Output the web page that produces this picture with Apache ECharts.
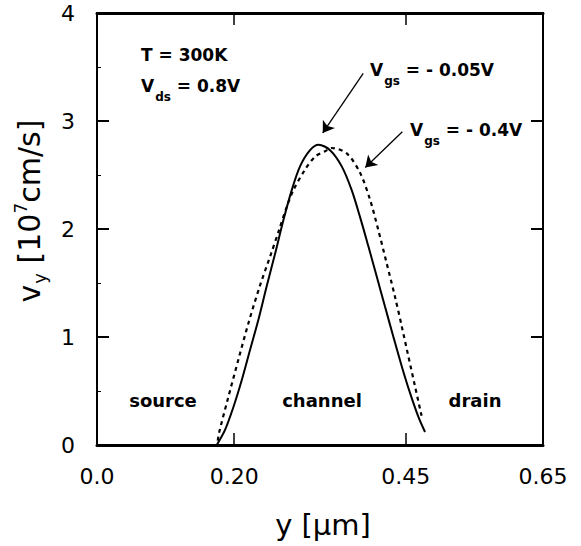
<!DOCTYPE html>
<html><head><meta charset="utf-8">
<script src="https://cdn.jsdelivr.net/npm/echarts@6/dist/echarts.min.js"></script>
<style>html,body{margin:0;padding:0;background:#fff}#c{width:581px;height:546px}</style>
</head><body><div id="c"></div>
<script>
// ---- data ----
const xTicks = [0, 0.20, 0.45, 0.65];
const xTickLabels = ['0.0', '0.20', '0.45', '0.65'];
const yTickLabels = ['0', '1', '2', '3', '4'];

// Vgs = -0.05 V (solid)
const solidX = [0.1745, 0.1866, 0.1987, 0.2109, 0.2230, 0.2352, 0.2473, 0.2595, 0.2716, 0.2838, 0.2959, 0.3105, 0.3230, 0.3397, 0.3567, 0.3712, 0.3834, 0.3955, 0.4077, 0.4198, 0.4320, 0.4441, 0.4563, 0.4684, 0.4781];
const solidV = [0.00, 0.14, 0.35, 0.60, 0.88, 1.16, 1.47, 1.77, 2.08, 2.36, 2.58, 2.73, 2.78, 2.73, 2.58, 2.36, 2.11, 1.84, 1.56, 1.28, 1.00, 0.73, 0.48, 0.26, 0.12];

// Vgs = -0.4 V (dashed)
const dashX = [0.1760, 0.1778, 0.1904, 0.2060, 0.2208, 0.2372, 0.2536, 0.2653, 0.2768, 0.2862, 0.3032, 0.3178, 0.3324, 0.3420, 0.3640, 0.3834, 0.3980, 0.4100, 0.4223, 0.4344, 0.4441, 0.4538, 0.4636, 0.4730];
const dashV = [0.04, 0.11, 0.42, 0.79, 1.13, 1.47, 1.77, 1.99, 2.21, 2.36, 2.55, 2.67, 2.72, 2.75, 2.70, 2.52, 2.27, 1.99, 1.68, 1.37, 1.10, 0.82, 0.54, 0.27];

// annotation arrows (tail -> head) in data units
const arrow1 = [[0.388, 3.44], [0.329, 2.89]];
const arrow2 = [[0.445, 2.90], [0.391, 2.57]];

// ---- chart ----
const FF = '"DejaVu Sans", sans-serif';
const chart = echarts.init(document.getElementById('c'), null, {renderer: 'svg'});
const pairs = (xs, ys) => xs.map((x, i) => [x, ys[i]]);

const subRich = (size) => ({
  m: {fontFamily: FF, fontWeight: 'bold', fontSize: size, lineHeight: 20, verticalAlign: 'top', fill: '#000'},
  s: {fontFamily: FF, fontWeight: 'bold', fontSize: 12, lineHeight: 12, padding: [14, 0, 0, 1], verticalAlign: 'top', fill: '#000'}
});

const axisCommon = {
  type: 'value', min: 0, max: 0.65,
  splitLine: {show: false},
};

chart.setOption({
  animation: false,
  backgroundColor: '#fff',
  grid: {left: 97, right: 38, top: 13, bottom: 101},
  xAxis: [
    Object.assign({}, axisCommon, {
      position: 'bottom',
      axisLine: {show: true, onZero: false, lineStyle: {color: '#000', width: 3}},
      axisTick: {show: true, inside: true, length: 12, lineStyle: {color: '#000', width: 1.5}, customValues: [0.20, 0.45]},
      axisLabel: {show: true, customValues: xTicks, margin: 20, fontFamily: FF, fontSize: 22, color: '#000',
        formatter: v => { const i = xTicks.findIndex(t => Math.abs(t - v) < 1e-9); return i >= 0 ? xTickLabels[i] : ''; }}
    }),
    Object.assign({}, axisCommon, {
      position: 'top',
      axisLine: {show: true, onZero: false, lineStyle: {color: '#000', width: 3}},
      axisTick: {show: true, inside: true, length: 12, lineStyle: {color: '#000', width: 1.5}, customValues: [0.20, 0.45]},
      axisLabel: {show: false}
    })
  ],
  yAxis: [
    {
      type: 'value', min: 0, max: 4, interval: 1, position: 'left',
      splitLine: {show: false},
      axisLine: {show: true, onZero: false, lineStyle: {color: '#000', width: 2}},
      axisTick: {show: true, inside: true, length: 12, lineStyle: {color: '#000', width: 2}},
      minorTick: {show: true, splitNumber: 2, length: 4, lineStyle: {color: '#000', width: 1}},
      axisLabel: {margin: 22, fontFamily: FF, fontSize: 22, color: '#000', formatter: v => yTickLabels[Math.round(v)]}
    },
    {
      type: 'value', min: 0, max: 4, interval: 1, position: 'right',
      splitLine: {show: false},
      axisLine: {show: true, onZero: false, lineStyle: {color: '#000', width: 2}},
      axisTick: {show: true, inside: true, length: 12, lineStyle: {color: '#000', width: 2}},
      axisLabel: {show: false}
    }
  ],
  series: [
    {
      name: 'Vgs = -0.05V', type: 'line', data: pairs(solidX, solidV), smooth: 0.3,
      showSymbol: false, lineStyle: {color: '#000', width: 2},
      markLine: {
        silent: true, symbol: ['none', 'arrow'], symbolSize: 11,
        label: {show: false},
        itemStyle: {color: '#000'},
        lineStyle: {color: '#000', width: 1.3, type: 'solid'},
        emphasis: {disabled: true},
        data: [
          [{coord: arrow1[0]}, {coord: arrow1[1]}],
          [{coord: arrow2[0]}, {coord: arrow2[1]}]
        ]
      }
    },
    {
      name: 'Vgs = -0.4V', type: 'line', data: pairs(dashX, dashV), smooth: 0.3,
      showSymbol: false, lineStyle: {color: '#000', width: 2.2, type: [4, 4]}
    }
  ],
  graphic: [
    {type: 'text', x: 141, y: 55, style: {text: 'T = 300K', fontFamily: FF, fontWeight: 'bold', fontSize: 17, fill: '#000', verticalAlign: 'middle'}},
    {type: 'text', x: 141, y: 77, style: {text: '{m|V}{s|ds}{m| = 0.8V}', rich: subRich(17), verticalAlign: 'top'}},
    {type: 'text', x: 370, y: 61, style: {text: '{m|V}{s|gs}{m| = - 0.05V}', rich: subRich(17), verticalAlign: 'top'}},
    {type: 'text', x: 410, y: 121, style: {text: '{m|V}{s|gs}{m| = - 0.4V}', rich: subRich(17), verticalAlign: 'top'}},
    {type: 'text', x: 163, y: 400, style: {text: 'source', fontFamily: FF, fontWeight: 'bold', fontSize: 18, fill: '#000', align: 'center', verticalAlign: 'middle'}},
    {type: 'text', x: 322, y: 400, style: {text: 'channel', fontFamily: FF, fontWeight: 'bold', fontSize: 18, fill: '#000', align: 'center', verticalAlign: 'middle'}},
    {type: 'text', x: 475, y: 400, style: {text: 'drain', fontFamily: FF, fontWeight: 'bold', fontSize: 18, fill: '#000', align: 'center', verticalAlign: 'middle'}},
    {type: 'text', x: 323, y: 525, style: {text: 'y [µm]', fontFamily: FF, fontSize: 29, fill: '#000', align: 'center', verticalAlign: 'middle'}},
    {type: 'text', x: 28, y: 211, rotation: Math.PI / 2, style: {
      text: '{m|v}{s|y}{m| [10}{p|7}{m|cm/s]}', align: 'center', verticalAlign: 'middle',
      rich: {
        m: {fontFamily: FF, fontSize: 30, lineHeight: 32, padding: [2, 0, 0, 0], verticalAlign: 'top', fill: '#000'},
        s: {fontFamily: FF, fontSize: 18, lineHeight: 18, padding: [18, 0, 0, 1], verticalAlign: 'top', fill: '#000'},
        p: {fontFamily: FF, fontSize: 17, lineHeight: 18, padding: [0, 0, 0, 0], verticalAlign: 'top', fill: '#000'}
      }
    }}
  ]
});
</script>
</body></html>
